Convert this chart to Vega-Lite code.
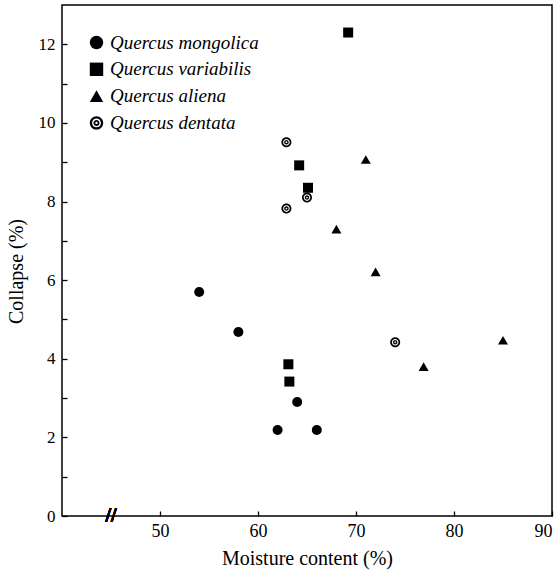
{
  "$schema": "https://vega.github.io/schema/vega-lite/v6.json",
  "width": 490,
  "height": 511,
  "autosize": {"type": "none"},
  "padding": {"left": 62, "top": 5, "right": 5, "bottom": 55},
  "background": "white",
  "config": {
    "font": "Liberation Serif",
    "view": {"stroke": "black", "strokeWidth": 1.5},
    "axis": {
      "grid": false,
      "domain": false,
      "tickColor": "black",
      "tickWidth": 1.3,
      "tickSize": 5,
      "labelColor": "black",
      "labelFont": "Liberation Serif",
      "titleFont": "Liberation Serif",
      "titleFontWeight": "normal",
      "titleColor": "black"
    }
  },
  "data": {
    "values": [
      {"species": "Quercus mongolica", "moisture": 54, "collapse": 5.7},
      {"species": "Quercus mongolica", "moisture": 58, "collapse": 4.68},
      {"species": "Quercus mongolica", "moisture": 64, "collapse": 2.9},
      {"species": "Quercus mongolica", "moisture": 62, "collapse": 2.19},
      {"species": "Quercus mongolica", "moisture": 66, "collapse": 2.19},
      {"species": "Quercus variabilis", "moisture": 69.2, "collapse": 12.3},
      {"species": "Quercus variabilis", "moisture": 64.2, "collapse": 8.92},
      {"species": "Quercus variabilis", "moisture": 65.1, "collapse": 8.35},
      {"species": "Quercus variabilis", "moisture": 63.1, "collapse": 3.86},
      {"species": "Quercus variabilis", "moisture": 63.2, "collapse": 3.42},
      {"species": "Quercus aliena", "moisture": 71, "collapse": 9.07},
      {"species": "Quercus aliena", "moisture": 68, "collapse": 7.3},
      {"species": "Quercus aliena", "moisture": 72, "collapse": 6.21},
      {"species": "Quercus aliena", "moisture": 76.9, "collapse": 3.8},
      {"species": "Quercus aliena", "moisture": 85, "collapse": 4.47},
      {"species": "Quercus dentata", "moisture": 62.9, "collapse": 9.51},
      {"species": "Quercus dentata", "moisture": 62.9, "collapse": 7.82},
      {"species": "Quercus dentata", "moisture": 65, "collapse": 8.1},
      {"species": "Quercus dentata", "moisture": 74, "collapse": 4.42}
    ]
  },
  "layer": [
    {
      "mark": {"type": "point", "filled": true, "color": "black", "opacity": 1, "strokeWidth": 0},
      "encoding": {
        "x": {
          "field": "moisture",
          "type": "quantitative",
          "scale": {"domain": [40, 90], "nice": false, "zero": false},
          "axis": {
            "values": [50, 60, 70, 80, 90],
            "offset": -5,
            "labelFontSize": 18,
            "title": "Moisture content (%)",
            "titleFontSize": 20,
            "labelPadding": 6,
            "titleY": 53,
            "titleBaseline": "alphabetic"
          }
        },
        "y": {
          "field": "collapse",
          "type": "quantitative",
          "scale": {"domain": [0, 13], "nice": false},
          "axis": {
            "values": [0, 1, 2, 3, 4, 5, 6, 7, 8, 9, 10, 11, 12],
            "labelExpr": "datum.value % 2 == 0 ? datum.label : ''",
            "offset": -5,
            "labelFontSize": 17,
            "title": "Collapse (%)",
            "titleFontSize": 20,
            "labelPadding": 7,
            "titleX": -51,
            "titleY": 266,
            "titleBaseline": "middle"
          }
        },
        "shape": {
          "field": "species",
          "type": "nominal",
          "scale": {
            "domain": ["Quercus mongolica", "Quercus variabilis", "Quercus aliena", "Quercus dentata"],
            "range": ["circle", "square", "triangle-up", "M1,0A1,1 0 1,1 -1,0A1,1 0 1,1 1,0Z M0.66,0A0.66,0.66 0 1,0 -0.66,0A0.66,0.66 0 1,0 0.66,0Z M0.45,0A0.45,0.45 0 1,1 -0.45,0A0.45,0.45 0 1,1 0.45,0Z M0.18,0A0.18,0.18 0 1,0 -0.18,0A0.18,0.18 0 1,0 0.18,0Z"]
          },
          "legend": {
            "title": null,
            "orient": "none",
            "legendX": 25,
            "legendY": 28,
            "labelFont": "Liberation Serif",
            "labelFontStyle": "italic",
            "labelFontSize": 19,
            "labelColor": "black",
            "labelOffset": 4,
            "rowPadding": 6.8,
            "symbolSize": 180,
            "symbolFillColor": "black",
            "symbolStrokeWidth": 0
          }
        },
        "size": {"value": 100}
      }
    },
    {
      "mark": {"type": "text", "text": "//", "fontSize": 20, "fontWeight": "bold", "color": "black", "baseline": "middle", "align": "center", "font": "Liberation Serif"},
      "encoding": {
        "x": {"datum": 45},
        "y": {"datum": 0}
      }
    }
  ]
}
